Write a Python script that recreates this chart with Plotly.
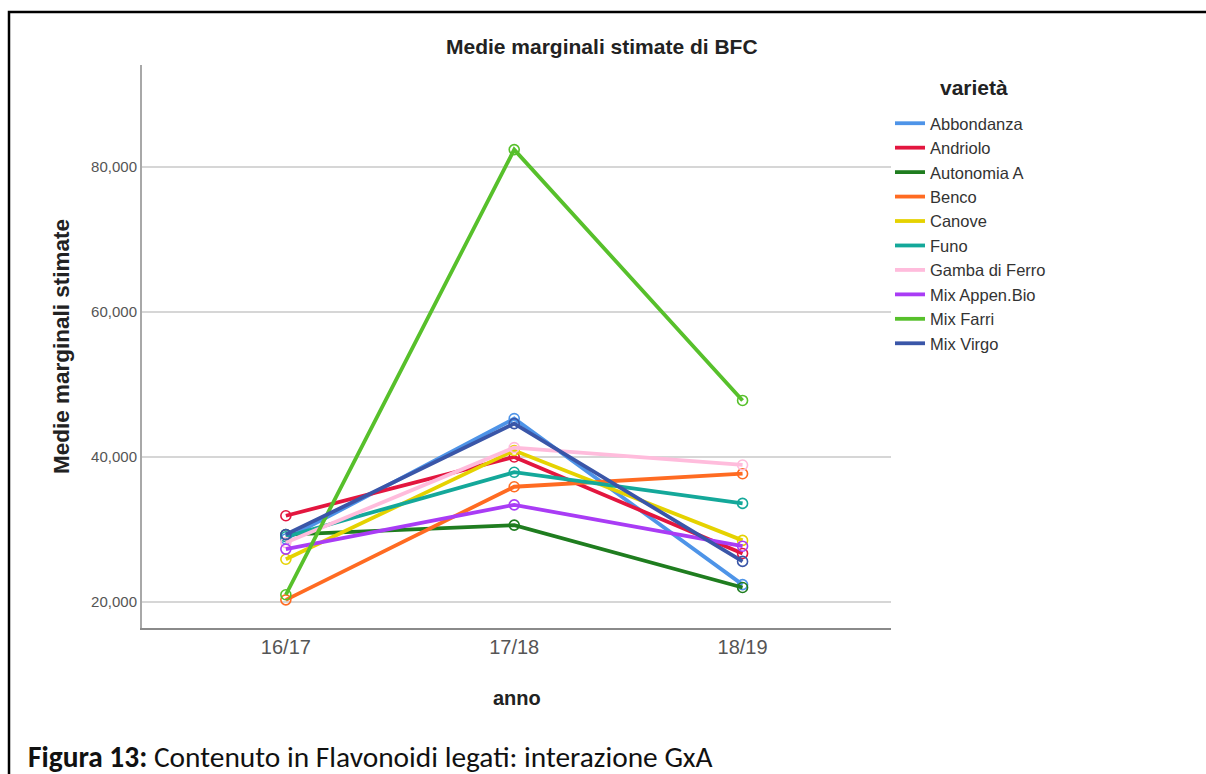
import plotly.graph_objects as go

anni = ["16/17", "17/18", "18/19"]
varieta = ["Abbondanza", "Andriolo", "Autonomia A", "Benco", "Canove", "Funo",
           "Gamba di Ferro", "Mix Appen.Bio", "Mix Farri", "Mix Virgo"]
abbondanza = [28700, 45300, 22400]
andriolo = [31900, 40000, 26700]
autonomia_a = [29300, 30600, 22000]
benco = [20300, 35900, 37700]
canove = [25900, 40900, 28500]
funo = [29000, 37900, 33600]
gamba_di_ferro = [28200, 41300, 38900]
mix_appen_bio = [27300, 33400, 27700]
mix_farri = [21000, 82400, 47800]
mix_virgo = [29300, 44600, 25600]
y_ticks = [20000, 40000, 60000, 80000]

serie = [abbondanza, andriolo, autonomia_a, benco, canove, funo,
         gamba_di_ferro, mix_appen_bio, mix_farri, mix_virgo]
colori = ["#4E94E8", "#E3163F", "#1F7D1F", "#FF6B22", "#E5D200", "#14A89A",
          "#FFBCDC", "#A93CF5", "#57C02B", "#3A56A8"]

W, H = 1206, 774
L, R, T, B = 142, 891, 65, 628


def px(x):
    return (x - L) / (R - L)


def py(y):
    return (B - y) / (B - T)


FONT = "Liberation Sans, Arial, sans-serif"

fig = go.Figure()
for nome, vals, col in zip(varieta, serie, colori):
    fig.add_trace(go.Scatter(
        x=anni, y=vals, mode="lines+markers", name=nome,
        line=dict(color=col, width=3.8),
        marker=dict(symbol="circle-open", size=10, color=col, line=dict(width=1.6, color=col)),
        showlegend=False))
for nome, col in zip(varieta, colori):
    fig.add_trace(go.Scatter(
        x=[None], y=[None], mode="lines", name=nome, legendgroup=nome,
        line=dict(color=col, width=3.8), showlegend=True))

fig.update_layout(
    width=W, height=H,
    margin=dict(l=L, r=W - R, t=T, b=H - B, pad=0),
    paper_bgcolor="white", plot_bgcolor="white",
    font=dict(family=FONT, color="#333333"),
    showlegend=True,
    legend=dict(
        x=px(890), y=py(106), xanchor="left", yanchor="top",
        font=dict(size=16.5, color="#333333", family=FONT),
        traceorder="grouped", tracegroupgap=0,
        bgcolor="rgba(0,0,0,0)", borderwidth=0,
    ),
    xaxis=dict(
        type="category", range=[-0.63, 2.65], showgrid=False,
        showline=True, linecolor="#8a8a8a", linewidth=2,
        ticks="", tickfont=dict(size=20, color="#555555", family=FONT),
        zeroline=False, fixedrange=True,
    ),
    yaxis=dict(
        range=[16414, 94069], tickvals=y_ticks, tickformat=",d",
        showgrid=True, gridcolor="#d6d6d6", gridwidth=2,
        showline=True, linecolor="#a8a8a8", linewidth=2,
        ticks="", tickfont=dict(size=15, color="#555555", family=FONT),
        zeroline=False, fixedrange=True,
    ),
)

annotations = [
    dict(text="<b>Medie marginali stimate di BFC</b>", x=px(602), y=py(46),
         font=dict(size=21, color="#222222", family=FONT)),
    dict(text="<b>Medie marginali stimate</b>", x=px(61), y=py(347), textangle=-90,
         font=dict(size=22.5, color="#222222", family=FONT)),
    dict(text="<b>anno</b>", x=px(517), y=py(698),
         font=dict(size=20, color="#222222", family=FONT)),
    dict(text="<b>varietà</b>", x=px(974), y=py(88),
         font=dict(size=21, color="#222222", family=FONT)),
    dict(text="<b>Figura 13:</b> Contenuto in Flavonoidi legati: interazione GxA",
         x=px(26), y=py(757), xanchor="left",
         font=dict(size=29.4, color="#111111", family="Carlito, Lato, sans-serif")),
]
for a in annotations:
    a.setdefault("xanchor", "center")
    a.update(xref="paper", yref="paper", yanchor="middle", showarrow=False)
fig.update_layout(annotations=annotations)

fig.add_shape(type="path", xref="paper", yref="paper",
              path=f"M {px(9)} {py(H + 10)} L {px(9)} {py(12)} L {px(W + 10)} {py(12)}",
              line=dict(color="black", width=2.5))

fig.write_html("out.html", config={"displayModeBar": False},
               post_script="document.body.style.margin='0';document.body.style.overflow='hidden';")
